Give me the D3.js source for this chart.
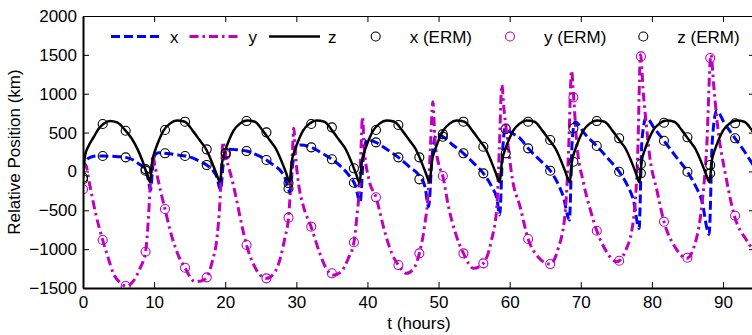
<!DOCTYPE html>
<html>
<head>
<meta charset="utf-8">
<script src="https://cdn.jsdelivr.net/npm/d3@7"></script>
<style>
  body { margin: 0; background: #fff; }
  svg { display: block; font-family: "Liberation Sans", Arial, Helvetica, sans-serif; }
  .axis text { font-size: 17px; fill: #000; }
  .axis path, .axis line { stroke: #000; }
</style>
</head>
<body>
<div id="chart"></div>
<script>
// series: [t (hours), position (km)]
var xLine = [[0,0],[0.3,120],[1.0,180],[2.0,200],[2.77,198],[4.0,195],[5.0,190],[6.0,181],[7.0,150],[7.8,100],[8.77,25],[9.1,-70],[9.5,-240],[9.8,50],[10.1,211],[10.6,240],[11.53,233],[12.5,225],[13.5,210],[14.35,198],[15.5,170],[16.5,125],[17.4,82],[18.2,20],[18.8,-68],[19.35,-240],[19.7,80],[20.1,260],[20.6,285],[21.5,280],[23.0,262],[24.5,210],[25.8,147],[26.8,80],[27.7,18],[28.4,-80],[29.1,-261],[29.5,100],[30.05,327],[30.6,340],[32.1,310],[33.5,240],[35.0,156],[36.3,60],[37.55,-68],[38.3,-180],[38.97,-400],[39.4,150],[39.9,404],[40.4,400],[41.2,374],[42.8,280],[44.35,181],[45.9,60],[47.4,-68],[48.1,-200],[48.6,-454],[49.1,200],[49.7,468],[50.6,447],[52.0,340],[53.5,233],[55.0,100],[56.3,-25],[57.5,-200],[58.2,-350],[58.6,-561],[59.0,250],[59.35,555],[60.2,500],[61.46,426],[62.6,297],[64.2,150],[65.7,9],[66.8,-160],[67.55,-325],[68.4,-625],[68.8,400],[69.2,640],[70.5,490],[72.25,327],[73.8,170],[75.4,-4],[76.5,-170],[77.4,-368],[78.2,-733],[78.6,400],[79.2,696],[80.3,560],[81.7,395],[83.3,200],[85.0,-4],[86.1,-180],[87.0,-368],[88.05,-810],[88.5,400],[89.1,781],[90.2,620],[91.7,426],[93.0,260],[94.1,104],[95.2,-40]];

var yLine = [[0,100],[0.4,80],[0.9,-150],[1.8,-550],[2.77,-883],[3.5,-1100],[4.26,-1311],[5.2,-1430],[6.05,-1475],[7.0,-1420],[8.0,-1250],[8.8,-1033],[9.2,-600],[9.42,-240],[9.65,50],[9.85,210],[10.05,100],[10.36,-25],[10.9,-250],[11.53,-484],[12.2,-740],[12.94,-968],[13.6,-1120],[14.35,-1239],[15.0,-1350],[15.75,-1419],[16.6,-1410],[17.4,-1363],[18.2,-1150],[18.8,-883],[19.27,-368],[19.5,100],[19.7,380],[19.9,300],[20.07,211],[20.5,50],[21.0,-120],[21.6,-368],[22.3,-680],[23.0,-947],[24.0,-1200],[25.0,-1340],[25.8,-1376],[26.8,-1320],[27.8,-1100],[28.4,-850],[28.9,-595],[29.2,-200],[29.45,250],[29.65,555],[29.9,200],[30.3,-150],[31.0,-450],[32.07,-711],[33.3,-1054],[34.2,-1250],[35.2,-1333],[36.3,-1290],[37.3,-1120],[38.1,-912],[38.6,-500],[38.86,-240],[39.1,300],[39.3,700],[39.55,300],[40.2,-100],[41.2,-333],[42.5,-797],[43.4,-1050],[44.35,-1205],[45.5,-1311],[46.5,-1250],[47.3,-1054],[48.0,-720],[48.57,-240],[48.9,400],[49.2,897],[49.5,400],[50.0,100],[50.6,-59],[51.4,-454],[52.4,-800],[53.5,-1054],[54.9,-1247],[56.3,-1183],[57.4,-900],[58.2,-454],[58.55,300],[58.9,1112],[59.2,800],[59.5,555],[60.4,-110],[61.46,-454],[62.6,-870],[64.0,-1100],[65.7,-1192],[66.8,-1000],[67.8,-540],[68.3,300],[68.7,1296],[69.0,953],[69.4,404],[70.4,-153],[71.3,-480],[72.25,-763],[73.6,-1030],[75.05,-1162],[76.3,-1020],[77.4,-625],[78.0,200],[78.4,1500],[78.8,1000],[79.2,619],[79.7,190],[80.7,-240],[81.7,-647],[83.3,-980],[84.9,-1118],[86.0,-950],[87.0,-454],[87.7,300],[88.3,1500],[88.7,1100],[89.1,704],[90.5,-111],[91.6,-570],[93.3,-883],[94.1,-990],[95.0,-1050]];

var zLine = [[0,-100],[0.3,210],[0.8,330],[1.5,440],[2.2,550],[2.9,615],[3.8,650],[4.8,630],[5.8,545],[6.8,430],[7.6,300],[8.3,150],[8.9,-10],
  [9.42,-135],[9.72,120],[10.22,290],[10.72,410],[11.32,525],[12.22,615],[13.22,655],[14.32,640],[15.42,525],[16.42,400],[17.32,285],[18.12,120],[18.72,-20],
  [19.27,-135],[19.57,120],[20.07,290],[20.57,410],[21.17,525],[22.07,615],[23.07,655],[24.17,640],[25.27,525],[26.27,400],[27.17,285],[27.97,120],[28.57,-20],
  [29.05,-140],[29.35,120],[29.85,290],[30.35,410],[30.95,525],[31.85,615],[32.85,655],[33.95,640],[35.05,525],[36.05,400],[36.95,285],[37.75,120],[38.35,-20],
  [38.9,-140],[39.2,120],[39.7,290],[40.2,410],[40.8,525],[41.7,615],[42.7,655],[43.8,640],[44.9,525],[45.9,400],[46.8,285],[47.6,120],[48.2,-20],
  [48.75,-140],[49.05,120],[49.55,290],[50.05,410],[50.65,525],[51.55,615],[52.55,655],[53.65,640],[54.75,525],[55.75,400],[56.65,285],[57.45,120],[58.05,-20],
  [58.6,-140],[58.9,120],[59.4,290],[59.9,410],[60.5,525],[61.4,615],[62.4,655],[63.5,640],[64.6,525],[65.6,400],[66.5,285],[67.3,120],[67.9,-20],
  [68.45,-140],[68.75,120],[69.25,290],[69.75,410],[70.35,525],[71.25,615],[72.25,655],[73.35,640],[74.45,525],[75.45,400],[76.35,285],[77.15,120],[77.75,-20],
  [78.25,-140],[78.55,120],[79.05,290],[79.55,410],[80.15,525],[81.05,615],[82.05,655],[83.15,640],[84.25,525],[85.25,400],[86.15,285],[86.95,120],[87.55,-20],
  [88.1,-140],[88.4,120],[88.9,290],[89.4,410],[90.0,525],[90.9,615],[91.9,655],[93.0,640],[94.1,525],[95.1,400]];

// ERM sample points
var ermT = [0, 2.77, 6.0, 8.8, 11.53, 14.35, 17.4, 20.07, 23.0, 25.8, 28.9, 32.1, 35.0, 38.1, 41.2, 44.35, 47.3, 50.6, 53.5, 56.3, 59.45, 62.6, 65.7, 68.96, 72.25, 75.4, 78.45, 81.7, 85.0, 88.2, 91.7];
var ermX = [-80, 198, 181, 30, 233, 198, 82, 240, 262, 147, -220, 310, 156, -145, 374, 181, -102, 447, 233, -25, 545, 297, 9, 555, 327, -4, 95, 395, -4, 82, 426];
var ermY = [-230, -883, -1475, -1033, -484, -1239, -1363, 211, -947, -1376, -595, -711, -1311, -912, -333, -1205, -1054, -59, -1054, -1183, 555, -870, -1192, 953, -763, -1149, 1480, -647, -1110, 1460, -570];
var ermZ = [-100, 610, 524, 10, 533, 640, 284, 230, 648, 503, -150, 610, 567, 40, 533, 597, 181, 480, 640, 318, 233, 640, 404, 125, 648, 426, -25, 627, 439, -25, 619];

var xTicks = [0, 10, 20, 30, 40, 50, 60, 70, 80, 90];
var yTicks = [-1500, -1000, -500, 0, 500, 1000, 1500, 2000];

var svgWidth = 752, svgHeight = 335;
var box = {left: 83, top: 16, bottom: 288, right: 755};

var blue = "#0000ff", magenta = "#bf00bf";

var svg = d3.select("#chart").append("svg")
    .attr("width", svgWidth)
    .attr("height", svgHeight);

var xScale = d3.scaleLinear().domain([0, 94.5]).range([box.left, box.right]);
var yScale = d3.scaleLinear().domain([-1500, 2000]).range([box.bottom, box.top]);

svg.append("defs").append("clipPath").attr("id", "plotclip")
  .append("rect").attr("x", box.left).attr("y", box.top)
  .attr("width", box.right - box.left).attr("height", box.bottom - box.top);

var plot = svg.append("g").attr("clip-path", "url(#plotclip)");

var line = d3.line()
    .x(d => xScale(d[0]))
    .y(d => yScale(d[1]))
    .curve(d3.curveMonotoneX);

plot.append("path").datum(xLine)
    .attr("d", line).attr("fill", "none")
    .attr("stroke", blue).attr("stroke-width", 3)
    .attr("stroke-dasharray", "9,4");

plot.append("path").datum(yLine)
    .attr("d", line).attr("fill", "none")
    .attr("stroke", magenta).attr("stroke-width", 3)
    .attr("stroke-dasharray", "9,4,2.5,4");

plot.append("path").datum(zLine)
    .attr("d", line).attr("fill", "none")
    .attr("stroke", "#000").attr("stroke-width", 2.5);

function circles(vals, color) {
  plot.append("g").selectAll("circle")
    .data(ermT)
    .enter()
    .append("circle")
    .attr("cx", d => xScale(d))
    .attr("cy", (d, i) => yScale(vals[i]))
    .attr("r", 4.5)
    .attr("fill", "none")
    .attr("stroke", color)
    .attr("stroke-width", 1.1);
}
circles(ermX, "#000");
circles(ermY, magenta);
circles(ermZ, "#000");

// axes, ticks pointing inward (box style)
var plain = d3.format("d");

svg.append("g").attr("class", "axis")
    .attr("transform", `translate(0, ${box.bottom})`)
    .call(d3.axisBottom(xScale).tickValues(xTicks).tickFormat(plain).tickSizeInner(-6).tickSizeOuter(0).tickPadding(8))
    .call(g => g.select(".domain").attr("stroke-width", 2));

svg.append("g").attr("class", "axis")
    .attr("transform", `translate(${box.left}, 0)`)
    .call(d3.axisLeft(yScale).tickValues(yTicks).tickFormat(plain).tickSizeInner(-6).tickSizeOuter(0).tickPadding(6))
    .call(g => g.select(".domain").attr("stroke-width", 2));

svg.append("g").attr("class", "axis")
    .attr("transform", `translate(0, ${box.top})`)
    .call(d3.axisTop(xScale).tickValues(xTicks).tickSizeInner(-6).tickSizeOuter(0).tickFormat(""));

svg.append("g").attr("class", "axis")
    .attr("transform", `translate(${box.right}, 0)`)
    .call(d3.axisRight(yScale).tickValues(yTicks).tickSizeInner(-6).tickSizeOuter(0).tickFormat(""));

svg.selectAll(".axis").attr("font-family", null).attr("font-size", null);

// axis titles
svg.append("text")
    .attr("transform", "rotate(-90)")
    .attr("x", -(box.top + box.bottom) / 2)
    .attr("y", 20)
    .attr("text-anchor", "middle")
    .attr("font-size", "17px")
    .text("Relative Position (km)");

svg.append("text")
    .attr("x", 419)
    .attr("y", 329)
    .attr("text-anchor", "middle")
    .attr("font-size", "17px")
    .text("t (hours)");

// legend
var legY = 36.5;
var lineItems = [
  {x: 111, label: "x", color: blue, dash: "9,4", w: 3},
  {x: 189.5, label: "y", color: magenta, dash: "9,4,2.5,4", w: 3},
  {x: 269, label: "z", color: "#000", dash: null, w: 2.5}
];
lineItems.forEach(function (it) {
  svg.append("line")
    .attr("x1", it.x).attr("x2", it.x + 51)
    .attr("y1", legY).attr("y2", legY)
    .attr("stroke", it.color).attr("stroke-width", it.w)
    .attr("stroke-dasharray", it.dash);
  svg.append("text")
    .attr("x", it.x + 59).attr("y", legY + 6)
    .attr("font-size", "17px")
    .text(it.label);
});
var markItems = [
  {x: 375.7, label: "x (ERM)", color: "#000"},
  {x: 510, label: "y (ERM)", color: magenta},
  {x: 643.3, label: "z (ERM)", color: "#000"}
];
markItems.forEach(function (it) {
  svg.append("circle")
    .attr("cx", it.x).attr("cy", legY)
    .attr("r", 4.5).attr("fill", "none")
    .attr("stroke", it.color).attr("stroke-width", 1.1);
  svg.append("text")
    .attr("x", it.x + 34).attr("y", legY + 6)
    .attr("font-size", "17px")
    .text(it.label);
});
</script>
</body>
</html>
